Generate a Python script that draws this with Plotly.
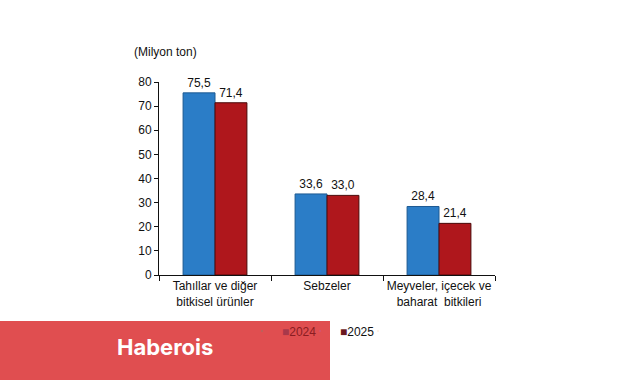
import plotly.graph_objects as go

categories = ["Tahıllar ve diğer<br>bitkisel ürünler", "Sebzeler", "Meyveler, içecek ve<br>baharat  bitkileri"]
series_names = ["2024", "2025"]
values_2024 = [75.5, 33.6, 28.4]
values_2025 = [71.4, 33.0, 21.4]
y_ticks = [0, 10, 20, 30, 40, 50, 60, 70, 80]

W, H = 641, 380
L, R, T, B = 159, 146, 82, 105
PW, PH = W - L - R, H - T - B

def px_x(px):
    return (px - L) / PW

def px_y(py):
    return (H - B - py) / PH

FONT = "Liberation Sans, Arial, sans-serif"
BLUE = "#2B7DC7"
RED = "#AF171C"

fig = go.Figure()
fig.add_trace(go.Bar(
    x=categories, y=values_2024, name=series_names[0],
    marker=dict(color=BLUE, line=dict(color="#1d5a92", width=1)),
    texttemplate="%{y:.1f}", textposition="outside", cliponaxis=False,
    textfont=dict(family=FONT, size=12, color="#111"), showlegend=False,
))
fig.add_trace(go.Bar(
    x=categories, y=values_2025, name=series_names[1],
    marker=dict(color=RED, line=dict(color="#4a0a0a", width=1)),
    texttemplate="%{y:.1f}", textposition="outside", cliponaxis=False,
    textfont=dict(family=FONT, size=12, color="#111"), showlegend=False,
))
# legend entries
fig.add_trace(go.Scatter(
    x=[None], y=[None], mode="markers", marker=dict(size=1, opacity=0),
    name="<span style='color:#a8384a;font-size:12px'>■</span><span style='color:#8a1d22'>" + series_names[0] + "</span>",
))
fig.add_trace(go.Scatter(
    x=[None], y=[None], mode="markers", marker=dict(size=1, opacity=0),
    name="<span style='color:#6a1820;font-size:12px'>■</span>" + series_names[1],
))
# spacer entry so the last legend label is not clipped
fig.add_trace(go.Scatter(
    x=[None], y=[None], mode="markers", marker=dict(size=1, opacity=0),
    name="&nbsp;",
))

# watermark banner
fig.add_shape(type="rect", xref="paper", yref="paper",
              x0=px_x(0), x1=px_x(330), y0=px_y(321), y1=px_y(380),
              fillcolor="#E04E50", line=dict(width=0), layer="below")
fig.add_annotation(xref="paper", yref="paper", x=px_x(165), y=px_y(347),
                   text="<b>Haberois</b>", showarrow=False,
                   font=dict(family="Inter, Roboto, sans-serif", size=22, color="white"),
                   xanchor="center", yanchor="middle")
fig.add_annotation(xref="paper", yref="paper", x=px_x(132), y=px_y(52),
                   text="(Milyon ton)", showarrow=False,
                   font=dict(family=FONT, size=12, color="#111"),
                   xanchor="left", yanchor="middle")

fig.update_layout(
    width=W, height=H,
    margin=dict(l=L, r=R, t=T, b=B, pad=0, autoexpand=False),
    paper_bgcolor="white", plot_bgcolor="white",
    separators=",.",
    barmode="group", bargap=0.43, bargroupgap=0,
    font=dict(family=FONT, size=12, color="#111"),
    showlegend=True,
    legend=dict(orientation="h", x=px_x(242), y=px_y(331), xanchor="left", yanchor="middle",
                bgcolor="rgba(0,0,0,0)", itemwidth=30, entrywidth=13,
                font=dict(family=FONT, size=12, color="#111")),
    xaxis=dict(showline=True, linecolor="#111", linewidth=1, ticks="outside",
               tickson="boundaries", ticklen=5, tickcolor="#111", tickangle=0,
               tickfont=dict(family=FONT, size=12, color="#111"), showgrid=False),
    yaxis=dict(range=[0, 80], tickvals=y_ticks, showline=True, linecolor="#111", linewidth=1,
               ticks="outside", ticklen=4, tickcolor="#111", showgrid=False, zeroline=False,
               tickfont=dict(family=FONT, size=12, color="#111")),
)

fig.write_html("out.html", config={"displayModeBar": False},
               post_script="document.body.style.margin='0';document.body.style.overflow='hidden';")
